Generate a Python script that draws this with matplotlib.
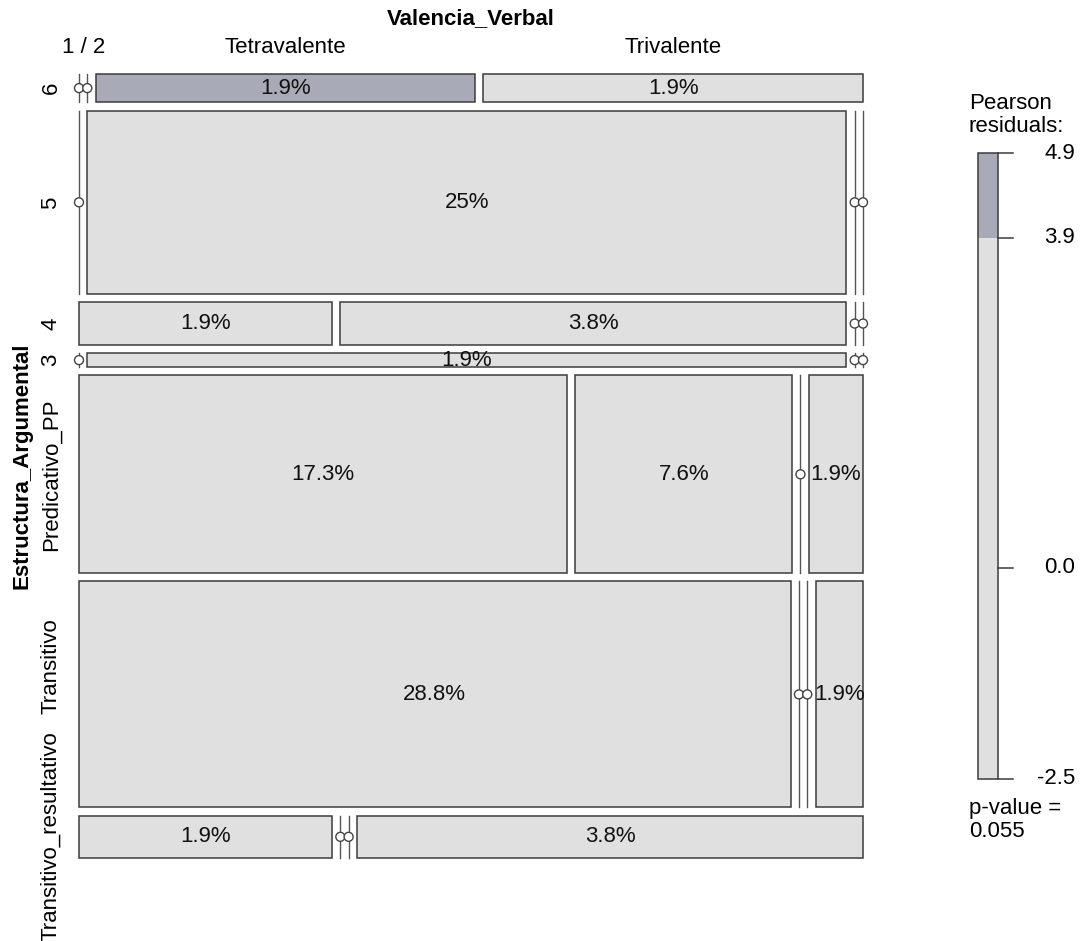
import matplotlib
matplotlib.use('Agg')
import matplotlib.pyplot as plt
from matplotlib.patches import Rectangle, Circle
import numpy as np
import math

plt.rcParams['font.family'] = ['Liberation Sans', 'DejaVu Sans']

# data: Estructura_Argumental (rows) x Valencia_Verbal (columns), counts
row_names = ['6', '5', '4', '3', 'Predicativo_PP', 'Transitivo', 'Transitivo_resultativo']
col_names = ['1', '2', 'Tetravalente', 'Trivalente']
counts = np.array([
    [0, 0, 1, 1],
    [0, 13, 0, 0],
    [1, 2, 0, 0],
    [0, 1, 0, 0],
    [9, 4, 0, 1],
    [15, 0, 0, 1],
    [1, 0, 0, 2],
])
crit_value = 3.9     # shading break from the max test
p_value = 0.055

# pearson residuals
N = counts.sum()
expected = np.outer(counts.sum(1), counts.sum(0)) / N
resid = (counts - expected) / np.sqrt(expected)

light = '#E0E0E0'
dark = '#A8AAB7'
edge = '#3c3c3c'
FS = 16

W, H = 1081, 941
fig = plt.figure(figsize=(W / 100, H / 100), dpi=100)
ax = fig.add_axes([0, 0, 1, 1])
ax.set_xlim(0, W)
ax.set_ylim(H, 0)
ax.axis('off')

# mosaic region (pixels)
X0, X1, Y0, Y1 = 79, 863, 74, 858
gap = 8.3
nr, nc = counts.shape
avail_h = (Y1 - Y0) - gap * (nr - 1)
avail_w = (X1 - X0) - gap * (nc - 1)

row_tot = counts.sum(1)
y = Y0
row_centers = []
top_centers = []
for i in range(nr):
    h = row_tot[i] / N * avail_h
    x = X0
    for j in range(nc):
        w = counts[i, j] / row_tot[i] * avail_w
        if counts[i, j] == 0:
            ax.plot([x, x], [y, y + h], color='#555555', lw=1.0, zorder=2)
            ax.add_patch(Circle((x, y + h / 2), 4.5, facecolor='white',
                                edgecolor='#444444', lw=1.0, zorder=3))
        else:
            fc = dark if resid[i, j] > crit_value else light
            ax.add_patch(Rectangle((x, y), w, h, facecolor=fc, edgecolor=edge,
                                   lw=1.1, zorder=2))
            pct = math.floor(counts[i, j] / N * 1000) / 10
            ax.text(x + w / 2, y + h / 2, f'{pct:g}%', ha='center', va='center',
                    fontsize=FS, color='#111111', zorder=4)
        if i == 0:
            top_centers.append(x + w / 2)
        x += w + gap
    row_centers.append(y + h / 2)
    y += h + gap

# column labels (merge labels that sit on top of each other)
groups = []
for j, cx in enumerate(top_centers):
    if groups and cx - groups[-1][-1][1] < 20:
        groups[-1].append((col_names[j], cx))
    else:
        groups.append([(col_names[j], cx)])
for g in groups:
    ax.text(np.mean([c for _, c in g]), 47, ' / '.join(n for n, _ in g),
            ha='center', va='center', fontsize=FS)
ax.text((X0 + X1) / 2, 19, 'Valencia_Verbal', ha='center', va='center',
        fontsize=FS, fontweight='bold')

# row labels, pushed up when they run into each other
row_texts = [ax.text(51, yc, name, rotation=90, ha='center', va='center', fontsize=FS)
             for name, yc in zip(row_names, row_centers)]
ax.text(22, (Y0 + Y1) / 2, 'Estructura_Argumental', rotation=90, ha='center',
        va='center', fontsize=FS, fontweight='bold')

fig.canvas.draw()
rend = fig.canvas.get_renderer()
limit = H
for t in reversed(row_texts):
    bb = t.get_window_extent(rend)
    top_px, bot_px = H - bb.y1, H - bb.y0
    if bot_px > limit:
        shift = bot_px - limit
        xx, yy = t.get_position()
        t.set_position((xx, yy - shift))
        top_px -= shift
    limit = top_px - 17

# legend
LX0, LX1 = 978, 998
lo, hi = round(resid.min(), 1), round(resid.max(), 1)
LT, LB = 153, 779
def to_px(v):
    return LB - (v - lo) / (hi - lo) * (LB - LT)
breaks = [lo, 0.0, crit_value, hi]
ax.add_patch(Rectangle((LX0, to_px(crit_value)), LX1 - LX0, to_px(lo) - to_px(crit_value),
                       facecolor=light, edgecolor='none', zorder=2))
ax.add_patch(Rectangle((LX0, to_px(hi)), LX1 - LX0, to_px(crit_value) - to_px(hi),
                       facecolor=dark, edgecolor='none', zorder=2))
ax.add_patch(Rectangle((LX0, LT), LX1 - LX0, LB - LT, facecolor='none',
                       edgecolor=edge, lw=1.1, zorder=3))
for b in breaks:
    yb = to_px(b)
    ax.plot([LX1, 1013], [yb, yb], color=edge, lw=1.1, zorder=3)
    ax.text(1075, yb, f'{b:.1f}', ha='right', va='center', fontsize=FS)
ax.text(969, 93, 'Pearson\nresiduals:', ha='left', va='top', fontsize=FS,
        linespacing=1.12)
ax.text(969, 798, f'p-value =\n{p_value}', ha='left', va='top', fontsize=FS,
        linespacing=1.12)

fig.savefig('out.png', dpi=100, facecolor='white')
